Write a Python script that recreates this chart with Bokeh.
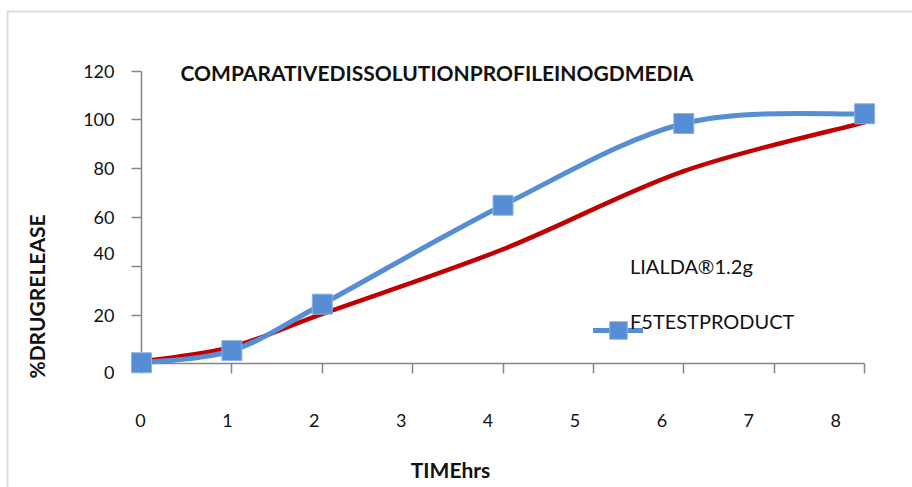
from bokeh.plotting import figure
from bokeh.models import (Range1d, LinearAxis, FixedTicker, ColumnDataSource, Label,
                          Legend, LegendItem, BoxAnnotation)
from bokeh.core.properties import value
from bokeh.embed import file_html
from bokeh.resources import INLINE
import math

# Dissolution data (% drug released vs time in hours)
time_hrs = [0, 1, 2, 4, 6, 8]
lialda = [1.0, 7.0, 20.5, 47.0, 79.0, 99.0]
f5_test = [0.5, 5.5, 24.5, 65.0, 98.5, 102.5]

x_ticks = [0, 1, 2, 3, 4, 5, 6, 7, 8]
y_ticks = [0, 20, 40, 60, 80, 100, 120]
y_label_shift = [9, 0, -13, 0, 0, 0, 0]

title_text = "COMPARATIVEDISSOLUTIONPROFILEINOGDMEDIA"
x_title = "TIMEhrs"
y_title = "%DRUGRELEASE"
series_names = ["LIALDA\u00ae1.2g", "F5TESTPRODUCT"]

FONT = "Lato"
AXIS_GREY = "#868686"
BLUE = "#558ED5"
RED = "#C00000"
INK = "#111111"

W, H = 912, 487
p = figure(width=W, height=H, output_backend="svg", toolbar_location=None,
           x_axis_type=None, y_axis_type=None,
           x_range=Range1d(-1.56, 8.53), y_range=Range1d(-50.6, 148.9),
           min_border=0, outline_line_color=None)
p.grid.visible = False
p.extra_x_ranges = {"ticklab": Range1d(-1.611, 8.884)}


def smooth_segments(xs, ys, k=6.0):
    """Bezier segments of a Catmull-Rom style smoothed line through the points."""
    n = len(xs)
    px = [xs[0]] + list(xs) + [xs[-1]]
    py = [ys[0]] + list(ys) + [ys[-1]]
    seg = dict(x0=[], y0=[], x1=[], y1=[], cx0=[], cy0=[], cx1=[], cy1=[])
    for i in range(1, n):
        seg["x0"].append(px[i]); seg["y0"].append(py[i])
        seg["x1"].append(px[i + 1]); seg["y1"].append(py[i + 1])
        seg["cx0"].append(px[i] + (px[i + 1] - px[i - 1]) / k)
        seg["cy0"].append(py[i] + (py[i + 1] - py[i - 1]) / k)
        seg["cx1"].append(px[i + 1] - (px[i + 2] - px[i]) / k)
        seg["cy1"].append(py[i + 1] - (py[i + 2] - py[i]) / k)
    return ColumnDataSource(seg)


# chart border
p.add_layout(BoxAnnotation(left=7, right=2000, top=H - 11, bottom=-500,
                           left_units="screen", right_units="screen",
                           top_units="screen", bottom_units="screen",
                           fill_color=None, line_color="#8F8F8F", line_width=2))

# axes
axis_style = dict(axis_line_color=AXIS_GREY, axis_line_width=1.5,
                  major_tick_line_color=AXIS_GREY, major_tick_line_width=1.5,
                  major_tick_in=0, major_tick_out=10, minor_tick_line_color=None,
                  major_label_text_color=None, level="underlay", fixed_location=0)
xaxis = LinearAxis(ticker=FixedTicker(ticks=x_ticks), bounds=(0, 8), **axis_style)
yaxis = LinearAxis(ticker=FixedTicker(ticks=y_ticks), bounds=(0, 120), **axis_style)
p.add_layout(xaxis, "below")
p.add_layout(yaxis, "left")

# tick labels
p.text(x=x_ticks, y=[0] * len(x_ticks), text=[str(t) for t in x_ticks],
       x_range_name="ticklab", y_offset=57, text_align="center", text_baseline="middle",
       text_font=value(FONT), text_font_size="18px", text_color=INK)
p.text(x=[0] * len(y_ticks), y=y_ticks, text=[str(t) for t in y_ticks],
       x_offset=-27, y_offset=y_label_shift, text_align="right", text_baseline="middle",
       text_font=value(FONT), text_font_size="18px", text_color=INK)

# series
red_src = smooth_segments(time_hrs, lialda)
blue_src = smooth_segments(time_hrs, f5_test)
red_line = p.bezier(x0="x0", y0="y0", x1="x1", y1="y1", cx0="cx0", cy0="cy0",
                    cx1="cx1", cy1="cy1", source=red_src, line_color=RED,
                    line_width=4.5, line_cap="round")
blue_line = p.bezier(x0="x0", y0="y0", x1="x1", y1="y1", cx0="cx0", cy0="cy0",
                     cx1="cx1", cy1="cy1", source=blue_src, line_color=BLUE,
                     line_width=5, line_cap="round")
blue_pts = p.scatter(time_hrs, f5_test, marker="square", size=20, fill_color=BLUE,
                     line_color="#8DB3E2", line_width=1)

# legend: text entries, plus the series symbol drawn partly under its label
ghost = p.line([], [], line_alpha=0)
legend_common = dict(orientation="vertical", padding=0, margin=0,
                     border_line_color=None, background_fill_alpha=0,
                     label_text_font=FONT, label_text_font_size="20px",
                     label_text_color=INK)
legend_text = Legend(items=[LegendItem(label=series_names[0], renderers=[ghost]),
                            LegendItem(label=series_names[1], renderers=[ghost])],
                     location=(630, H - 343), glyph_width=0, glyph_height=44,
                     label_standoff=0, spacing=11, **legend_common)
legend_symbol = Legend(items=[LegendItem(label=" ", renderers=[blue_line, blue_pts])],
                       location=(593, H - 352), glyph_width=50, glyph_height=44,
                       label_standoff=0, **legend_common)
p.add_layout(legend_symbol, "center")
p.add_layout(legend_text, "center")

# titles
bold = dict(text_font=FONT, text_font_style="bold", text_font_size="21px",
            text_baseline="middle", text_color=INK, x_units="screen", y_units="screen")
p.add_layout(Label(x=180, y=H - 72, text=title_text, **bold))
p.add_layout(Label(x=450, y=H - 469, text=x_title, text_align="center", **bold))
p.add_layout(Label(x=36, y=H - 296, text=y_title, angle=math.pi / 2,
                   text_align="center", **bold))

open("out.html", "w").write(file_html(p, INLINE))
